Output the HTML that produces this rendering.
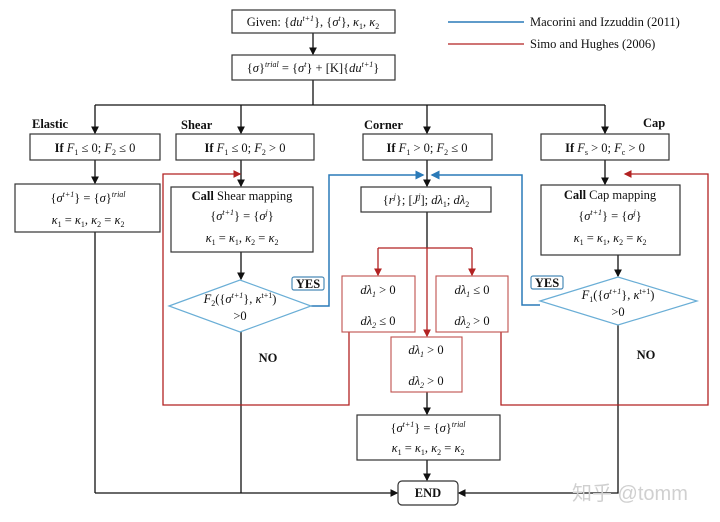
<!DOCTYPE html>
<html><head><meta charset="utf-8"><style>
html,body{margin:0;padding:0;background:#fff;}
svg{display:block;font-family:"Liberation Serif",serif;}
text{font-size:12.5px;fill:#111;}
.b{font-weight:bold;}
.i{font-style:italic;}
</style></head><body>
<svg width="720" height="522" viewBox="0 0 720 522" xmlns="http://www.w3.org/2000/svg">
<defs>
<marker id="ak" markerWidth="6" markerHeight="6" refX="5" refY="3" orient="auto"><path d="M0,0 L6,3 L0,6 z" fill="#111"/></marker>
<marker id="ar" markerWidth="6" markerHeight="6" refX="5" refY="3" orient="auto"><path d="M0,0 L6,3 L0,6 z" fill="#b22222"/></marker>
<marker id="ab" markerWidth="6" markerHeight="6" refX="5" refY="3" orient="auto"><path d="M0,0 L6,3 L0,6 z" fill="#2a7ab8"/></marker>
</defs>
<g fill="none" stroke="#111" stroke-width="1.3">
<line x1="313" y1="33" x2="313" y2="54" marker-end="url(#ak)"/>
<line x1="313" y1="80" x2="313" y2="105"/>
<line x1="95" y1="105" x2="605" y2="105"/>
<line x1="95" y1="105" x2="95" y2="133" marker-end="url(#ak)"/>
<line x1="241" y1="105" x2="241" y2="133" marker-end="url(#ak)"/>
<line x1="427" y1="105" x2="427" y2="133" marker-end="url(#ak)"/>
<line x1="605" y1="105" x2="605" y2="133" marker-end="url(#ak)"/>
<line x1="95" y1="160" x2="95" y2="183" marker-end="url(#ak)"/>
<line x1="241" y1="160" x2="241" y2="186" marker-end="url(#ak)"/>
<line x1="427" y1="160" x2="427" y2="186" marker-end="url(#ak)"/>
<line x1="605" y1="160" x2="605" y2="184" marker-end="url(#ak)"/>
<line x1="427" y1="212" x2="427" y2="248"/>
<line x1="241" y1="252" x2="241" y2="279" marker-end="url(#ak)"/>
<line x1="618" y1="255" x2="618" y2="276" marker-end="url(#ak)"/>
<line x1="427" y1="392" x2="427" y2="414" marker-end="url(#ak)"/>
<line x1="427" y1="460" x2="427" y2="480" marker-end="url(#ak)"/>
<line x1="95" y1="232" x2="95" y2="493"/>
<line x1="241" y1="332" x2="241" y2="493"/>
<line x1="95" y1="493" x2="397" y2="493" marker-end="url(#ak)"/>
<polyline points="618,325 618,493 459,493" marker-end="url(#ak)"/>
</g>
<g fill="none" stroke="#b22222" stroke-width="1.3">
<polyline points="349,332 349,405 163,405 163,174 240,174" marker-end="url(#ar)"/>
<polyline points="501,332 501,405 708,405 708,174 625,174" marker-end="url(#ar)"/>
<line x1="378" y1="248" x2="472" y2="248"/>
<line x1="378" y1="248" x2="378" y2="275" marker-end="url(#ar)"/>
<line x1="472" y1="248" x2="472" y2="275" marker-end="url(#ar)"/>
<line x1="427" y1="248" x2="427" y2="336" marker-end="url(#ar)"/>
<line x1="448" y1="44" x2="524" y2="44"/>
</g>
<g fill="none" stroke="#2a7ab8" stroke-width="1.5">
<polyline points="311,306 329,306 329,175 423,175" marker-end="url(#ab)"/>
<polyline points="540,305 522,305 522,175 432,175" marker-end="url(#ab)"/>
<line x1="448" y1="22" x2="524" y2="22"/>
</g>
<g fill="#fff" stroke="#333" stroke-width="1.2">
<rect x="232" y="10" width="163" height="23"/>
<rect x="232" y="55" width="163" height="25"/>
<rect x="30" y="134" width="130" height="26"/>
<rect x="176" y="134" width="138" height="26"/>
<rect x="363" y="134" width="129" height="26"/>
<rect x="541" y="134" width="128" height="26"/>
<rect x="15" y="184" width="145" height="48"/>
<rect x="171" y="187" width="142" height="65"/>
<rect x="361" y="187" width="130" height="25"/>
<rect x="541" y="185" width="139" height="70"/>
<rect x="357" y="415" width="143" height="45"/>
<rect x="398" y="481" width="60" height="24" rx="4"/>
</g>
<g fill="#fff" stroke="#c0504d" stroke-width="1.1">
<rect x="342" y="276" width="73" height="56"/>
<rect x="436" y="276" width="72" height="56"/>
<rect x="391" y="337" width="71" height="55"/>
</g>
<g fill="#fff" stroke="#6aaed6" stroke-width="1.2">
<polygon points="169,306 240,280 311,306 240,332"/>
<polygon points="540,301 618,277 697,301 618,325"/>
<rect x="292" y="277" width="32" height="13" rx="2" stroke="#4a8bb8"/>
<rect x="531" y="276" width="32" height="13" rx="2" stroke="#4a8bb8"/>
</g>
<g text-anchor="middle">
<text x="313" y="26">Given: {<tspan class="i">du</tspan><tspan font-size="8" dy="-5" class="i">t+1</tspan><tspan dy="5">}, {</tspan><tspan class="i">σ</tspan><tspan font-size="8" dy="-5" class="i">t</tspan><tspan dy="5">}, </tspan><tspan class="i">κ</tspan><tspan font-size="8" dy="3">1</tspan><tspan dy="-3">, </tspan><tspan class="i">κ</tspan><tspan font-size="8" dy="3">2</tspan></text>
<text x="313" y="72">{<tspan class="i">σ</tspan>}<tspan font-size="8" dy="-5" class="i">trial</tspan><tspan dy="5"> = {</tspan><tspan class="i">σ</tspan><tspan font-size="8" dy="-5" class="i">t</tspan><tspan dy="5">} + [K]{</tspan><tspan class="i">du</tspan><tspan font-size="8" dy="-5" class="i">t+1</tspan><tspan dy="5">}</tspan></text>
<text x="95" y="152"><tspan class="b">If</tspan>  <tspan class="i">F</tspan><tspan font-size="8" dy="3">1</tspan><tspan dy="-3"> ≤ 0; </tspan><tspan class="i">F</tspan><tspan font-size="8" dy="3">2</tspan><tspan dy="-3"> ≤ 0</tspan></text>
<text x="245" y="152"><tspan class="b">If</tspan>  <tspan class="i">F</tspan><tspan font-size="8" dy="3">1</tspan><tspan dy="-3"> ≤ 0; </tspan><tspan class="i">F</tspan><tspan font-size="8" dy="3">2</tspan><tspan dy="-3"> &gt; 0</tspan></text>
<text x="427" y="152"><tspan class="b">If</tspan>  <tspan class="i">F</tspan><tspan font-size="8" dy="3">1</tspan><tspan dy="-3"> &gt; 0; </tspan><tspan class="i">F</tspan><tspan font-size="8" dy="3">2</tspan><tspan dy="-3"> ≤ 0</tspan></text>
<text x="605" y="152"><tspan class="b">If</tspan>  <tspan class="i">F</tspan><tspan font-size="8" dy="3">s</tspan><tspan dy="-3"> &gt; 0; </tspan><tspan class="i">F</tspan><tspan font-size="8" dy="3">c</tspan><tspan dy="-3"> &gt; 0</tspan></text>
<text x="88" y="202">{<tspan class="i">σ</tspan><tspan font-size="8" dy="-5" class="i">t+1</tspan><tspan dy="5">} = {</tspan><tspan class="i">σ</tspan>}<tspan font-size="8" dy="-5" class="i">trial</tspan></text>
<text x="88" y="224"><tspan class="i">κ</tspan><tspan font-size="8" dy="3">1</tspan><tspan dy="-3"> = </tspan><tspan class="i">κ</tspan><tspan font-size="8" dy="3">1</tspan><tspan dy="-3">,  </tspan><tspan class="i">κ</tspan><tspan font-size="8" dy="3">2</tspan><tspan dy="-3"> = </tspan><tspan class="i">κ</tspan><tspan font-size="8" dy="3">2</tspan></text>
<text x="242" y="200"><tspan class="b">Call</tspan> Shear mapping</text>
<text x="242" y="220">{<tspan class="i">σ</tspan><tspan font-size="8" dy="-5" class="i">t+1</tspan><tspan dy="5">} = {</tspan><tspan class="i">σ</tspan><tspan font-size="8" dy="-5" class="i">j</tspan><tspan dy="5">}</tspan></text>
<text x="242" y="242"><tspan class="i">κ</tspan><tspan font-size="8" dy="3">1</tspan><tspan dy="-3"> = </tspan><tspan class="i">κ</tspan><tspan font-size="8" dy="3">1</tspan><tspan dy="-3">,  </tspan><tspan class="i">κ</tspan><tspan font-size="8" dy="3">2</tspan><tspan dy="-3"> = </tspan><tspan class="i">κ</tspan><tspan font-size="8" dy="3">2</tspan></text>
<text x="426" y="204">{<tspan class="i">r</tspan><tspan font-size="8" dy="-5" class="i">j</tspan><tspan dy="5">}; [</tspan><tspan class="i">J</tspan><tspan font-size="8" dy="-5" class="i">j</tspan><tspan dy="5">]; </tspan><tspan class="i">dλ</tspan><tspan font-size="8" dy="3">1</tspan><tspan dy="-3">; </tspan><tspan class="i">dλ</tspan><tspan font-size="8" dy="3">2</tspan></text>
<text x="610" y="199"><tspan class="b">Call</tspan> Cap mapping</text>
<text x="610" y="220">{<tspan class="i">σ</tspan><tspan font-size="8" dy="-5" class="i">t+1</tspan><tspan dy="5">} = {</tspan><tspan class="i">σ</tspan><tspan font-size="8" dy="-5" class="i">j</tspan><tspan dy="5">}</tspan></text>
<text x="610" y="242"><tspan class="i">κ</tspan><tspan font-size="8" dy="3">1</tspan><tspan dy="-3"> = </tspan><tspan class="i">κ</tspan><tspan font-size="8" dy="3">1</tspan><tspan dy="-3">,  </tspan><tspan class="i">κ</tspan><tspan font-size="8" dy="3">2</tspan><tspan dy="-3"> = </tspan><tspan class="i">κ</tspan><tspan font-size="8" dy="3">2</tspan></text>
<text x="240" y="303"><tspan class="i">F</tspan><tspan font-size="8" dy="3">2</tspan><tspan dy="-3">({</tspan><tspan class="i">σ</tspan><tspan font-size="8" dy="-5" class="i">t+1</tspan><tspan dy="5">}, </tspan><tspan class="i">κ</tspan><tspan font-size="8" dy="-5">t+1</tspan><tspan dy="5">)</tspan></text>
<text x="240" y="320">&gt;0</text>
<text x="618" y="299"><tspan class="i">F</tspan><tspan font-size="8" dy="3">1</tspan><tspan dy="-3">({</tspan><tspan class="i">σ</tspan><tspan font-size="8" dy="-5" class="i">t+1</tspan><tspan dy="5">}, </tspan><tspan class="i">κ</tspan><tspan font-size="8" dy="-5">t+1</tspan><tspan dy="5">)</tspan></text>
<text x="618" y="316">&gt;0</text>
<text x="378" y="294" class="i">dλ<tspan font-size="8" dy="3">1</tspan><tspan dy="-3" font-style="normal"> &gt; 0</tspan></text>
<text x="378" y="325" class="i">dλ<tspan font-size="8" dy="3">2</tspan><tspan dy="-3" font-style="normal"> ≤ 0</tspan></text>
<text x="472" y="294" class="i">dλ<tspan font-size="8" dy="3">1</tspan><tspan dy="-3" font-style="normal"> ≤ 0</tspan></text>
<text x="472" y="325" class="i">dλ<tspan font-size="8" dy="3">2</tspan><tspan dy="-3" font-style="normal"> &gt; 0</tspan></text>
<text x="426" y="354" class="i">dλ<tspan font-size="8" dy="3">1</tspan><tspan dy="-3" font-style="normal"> &gt; 0</tspan></text>
<text x="426" y="385" class="i">dλ<tspan font-size="8" dy="3">2</tspan><tspan dy="-3" font-style="normal"> &gt; 0</tspan></text>
<text x="428" y="432">{<tspan class="i">σ</tspan><tspan font-size="8" dy="-5" class="i">t+1</tspan><tspan dy="5">} = {</tspan><tspan class="i">σ</tspan>}<tspan font-size="8" dy="-5" class="i">trial</tspan></text>
<text x="428" y="452"><tspan class="i">κ</tspan><tspan font-size="8" dy="3">1</tspan><tspan dy="-3"> = </tspan><tspan class="i">κ</tspan><tspan font-size="8" dy="3">1</tspan><tspan dy="-3">,  </tspan><tspan class="i">κ</tspan><tspan font-size="8" dy="3">2</tspan><tspan dy="-3"> = </tspan><tspan class="i">κ</tspan><tspan font-size="8" dy="3">2</tspan></text>
<text x="428" y="497" class="b">END</text>
<text x="308" y="288" class="b" font-size="11">YES</text>
<text x="547" y="287" class="b" font-size="11">YES</text>
<text x="268" y="362" class="b">NO</text>
<text x="646" y="359" class="b">NO</text>
</g>
<text x="32" y="128" class="b">Elastic</text>
<text x="181" y="129" class="b">Shear</text>
<text x="364" y="129" class="b">Corner</text>
<text x="643" y="127" class="b">Cap</text>
<text x="530" y="26" font-size="11.5">Macorini and Izzuddin (2011)</text>
<text x="530" y="48" font-size="11.5">Simo and Hughes (2006)</text>
<text x="572" y="500" style="font-family:'Liberation Sans','Noto Sans CJK SC',sans-serif;font-size:20px;fill:#d0d0d0">知乎 @tomm</text>
</svg>
</body></html>
